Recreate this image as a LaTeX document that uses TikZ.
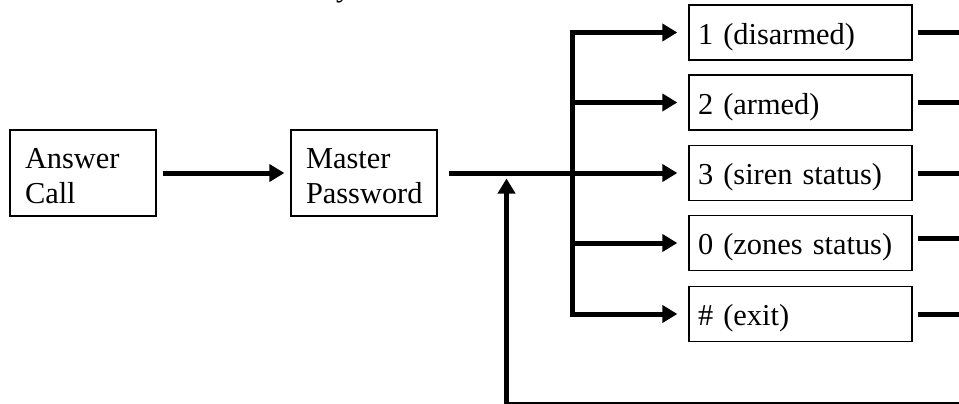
\documentclass[tikz,border=0pt]{standalone}
\usepackage{fontspec}
\setmainfont{Liberation Serif}
\usetikzlibrary{arrows.meta}
\newcommand\lowr[2][4.5pt]{\raisebox{-#1}[\height][\depth]{#2}}
\begin{document}
\begin{tikzpicture}[x=1pt,y=-1pt,
  every node/.style={font=\fontsize{30.4}{35}\selectfont},
  bigbox/.style={draw, line width=1.3pt, minimum width=146pt, minimum height=86pt, inner xsep=15pt, text width=116pt, align=left, inner ysep=0pt},
  optbox/.style={draw, line width=1.3pt, minimum width=223pt, minimum height=55pt, inner xsep=9pt, text width=205pt, align=left, inner ysep=0pt},
  flow/.style={line width=5pt},
  arr/.style={flow, -{Triangle[length=15pt,width=17pt]}}
]
\useasboundingbox (0,0) rectangle (959,404);
\node[anchor=base west, inner sep=0pt] (cut) at (336,-3.5) {y};
\node[bigbox] (ans) at (83,173) {\lowr[3pt]{Answer}\\\lowr[3pt]{Call}};
\node[bigbox] (mp) at (364,173) {\lowr[3pt]{Master}\\\lowr[3pt]{Password}};
\node[optbox] (o1) at (800.5,32.5) {\lowr{1 (disarmed)}};
\node[optbox] (o2) at (800.5,102.5) {\lowr{2 (armed)}};
\node[optbox] (o3) at (800.5,173) {\lowr{3 (siren status)}};
\node[optbox] (o4) at (800.5,243) {\lowr{0 (zones status)}};
\node[optbox] (o5) at (800.5,314) {\lowr{\# (exit)}};
\coordinate (busTop) at (572,32.5);
\coordinate (busBot) at (572,316.5);
\coordinate (e1) at (962,32.5);
\coordinate (e2) at (962,102.5);
\coordinate (e3) at (962,173);
\coordinate (e4) at (962,238);
\coordinate (e5) at (962,314);
\coordinate (fbR) at (962,404);
\coordinate (fbL) at (506.5,404);
\coordinate (fbTip) at (506.5,178.5);
% main flow
\draw[arr] ([xshift=6pt]ans.east) -- ([xshift=-6pt]mp.west);
\draw[arr] ([xshift=11pt]mp.east) -- ([xshift=-11pt]o3.west);
% bus
\draw[arr, line join=miter] (busBot) -- (busTop) -- ([xshift=-11pt]o1.west);
\draw[arr] (busTop |- o2.west) -- ([xshift=-11pt]o2.west);
\draw[arr] (busTop |- o4.west) -- ([xshift=-11pt]o4.west);
\draw[arr] ([xshift=-2.5pt]busTop |- o5.west) -- ([xshift=-11pt]o5.west);
% outgoing lines
\draw[flow] ([xshift=5pt]o1.east) -- (e1);
\draw[flow] ([xshift=5pt]o2.east) -- (e2);
\draw[flow] ([xshift=5pt]o3.east) -- (e3);
\draw[flow] ([xshift=5pt]o4.east |- e4) -- (e4);
\draw[flow] ([xshift=5pt]o5.east) -- (e5);
% feedback
\draw[arr, line join=miter] (fbR) -- (fbL) -- (fbTip);
\end{tikzpicture}
\end{document}
